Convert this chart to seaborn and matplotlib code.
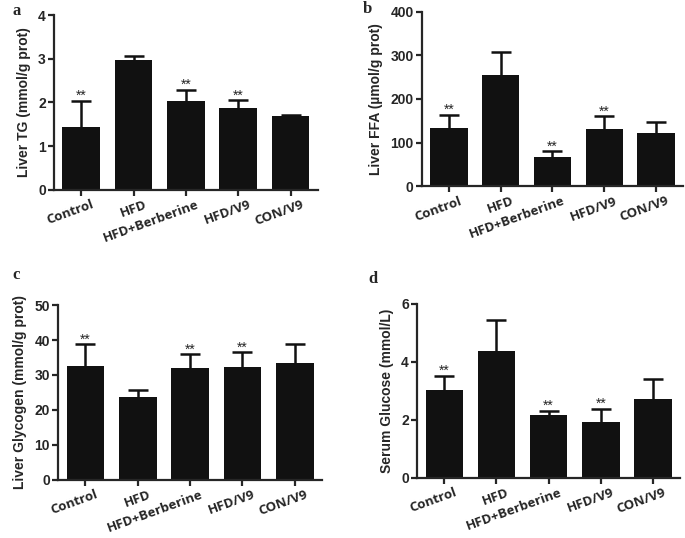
import numpy as np
import pandas as pd
import matplotlib
matplotlib.use('Agg')
import matplotlib.pyplot as plt
import matplotlib.transforms as mtransforms
import seaborn as sns

groups = ['Control', 'HFD', 'HFD+Berberine', 'HFD/V9', 'CON/V9']

# means and upper error (SEM)
tg_mean = [1.43, 2.97, 2.04, 1.87, 1.70]
tg_err = [0.60, 0.09, 0.25, 0.18, 0.02]
ffa_mean = [134, 256, 66, 132, 122]
ffa_err = [29, 52, 14, 28, 25]
gly_mean = [32.5, 23.8, 32.0, 32.3, 33.3]
gly_err = [6.3, 1.9, 3.9, 4.2, 5.5]
glu_mean = [3.03, 4.37, 2.17, 1.94, 2.71]
glu_err = [0.50, 1.08, 0.15, 0.45, 0.69]

# ** marks versus HFD
tg_sig = [1, 0, 1, 1, 0]
ffa_sig = [1, 0, 1, 1, 0]
gly_sig = [1, 0, 1, 1, 0]
glu_sig = [1, 0, 1, 1, 0]

sns.set_style('ticks')
plt.rcParams['font.family'] = ['Liberation Sans', 'DejaVu Sans']

fig = plt.figure(figsize=(6.85, 5.38), dpi=100)

panels = [
    ('a', [0.079, 0.647, 0.385, 0.325], tg_mean, tg_err, tg_sig,
     'Liver TG (mmol/g prot)', 4, 1, (12, 11)),
    ('b', [0.616, 0.654, 0.381, 0.324], ffa_mean, ffa_err, ffa_sig,
     'Liver FFA (µmol/g prot)', 400, 100, (363, 9)),
    ('c', [0.085, 0.108, 0.385, 0.325], gly_mean, gly_err, gly_sig,
     'Liver Glycogen (mmol/g prot)', 50, 10, (12, 275)),
    ('d', [0.609, 0.112, 0.384, 0.323], glu_mean, glu_err, glu_sig,
     'Serum Glucose (mmol/L)', 6, 2, (368, 279)),
]

for letter, rect, mean, err, sig, ylabel, ymax, step, lpos in panels:
    ax = fig.add_axes(rect)
    df = pd.DataFrame({'group': groups, 'value': mean})
    sns.barplot(data=df, x='group', y='value', color='#111111', saturation=1,
                width=0.72, errorbar=None, linewidth=0, ax=ax)
    x = np.arange(len(groups))
    eb = ax.errorbar(x, mean, yerr=[np.zeros(len(mean)), err], fmt='none',
                     ecolor='#111111', elinewidth=1.8, capsize=7, capthick=1.8)
    # only the upper cap is shown
    eb[1][0].set_visible(False)
    for i in range(len(groups)):
        if sig[i]:
            ax.annotate('**', (x[i], mean[i] + err[i]), xytext=(0, -1.5),
                        textcoords='offset points', ha='center', va='bottom',
                        fontsize=10)
    ax.set_xlim(-0.52, 4.52)
    ax.set_ylim(0, ymax)
    ax.set_yticks(np.arange(0, ymax + step / 2, step))
    ax.set_xlabel('')
    ax.set_ylabel(ylabel, fontsize=10, fontweight='bold', labelpad=5)
    for s in ['left', 'bottom']:
        ax.spines[s].set_linewidth(1.6)
    sns.despine(ax=ax)
    ax.tick_params(axis='both', width=1.6, length=4, direction='out', pad=2)
    for lab in ax.get_yticklabels():
        lab.set_fontweight('bold')
        lab.set_fontsize(10)
    offset = mtransforms.ScaledTranslation(0.1, 0, fig.dpi_scale_trans)
    for lab in ax.get_xticklabels():
        lab.set_family(['Open Sans', 'DejaVu Sans'])
        lab.set_fontweight('bold')
        lab.set_fontsize(9.5)
        lab.set_rotation(20)
        lab.set_ha('right')
        lab.set_rotation_mode('anchor')
        lab.set_transform(lab.get_transform() + offset)
    fig.text(lpos[0] / 685, 1 - lpos[1] / 538, letter, family='Liberation Serif',
             fontweight='bold', fontsize=12, ha='left', va='center')

fig.savefig('out.png', dpi=100)
